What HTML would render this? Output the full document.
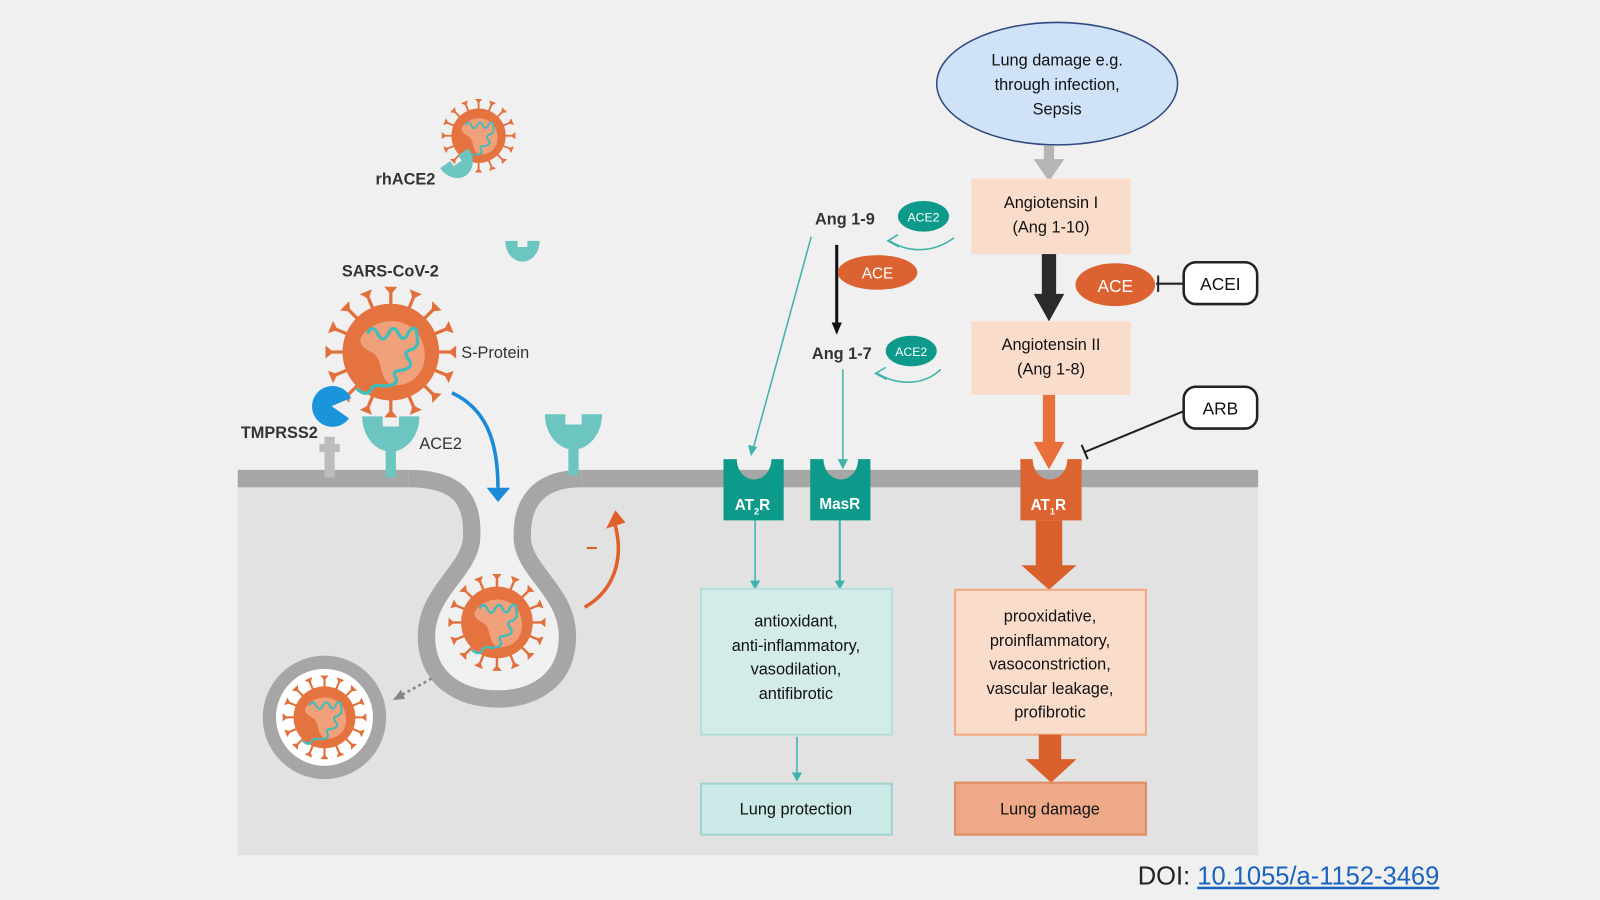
<!DOCTYPE html>
<html><head><meta charset="utf-8"><style>
html,body{margin:0;padding:0;background:#f0f0f0;}
svg{display:block;}
text{font-family:"Liberation Sans",sans-serif;}
</style></head><body>
<svg width="1600" height="900" viewBox="0 0 1568 882" xmlns="http://www.w3.org/2000/svg">
<defs>
<g id="sp"><line x1="0" y1="-36" x2="0" y2="-48" stroke="#e2703c" stroke-width="2.5"/><path d="M-5 -50 L5 -50 L0 -44z" fill="#e2703c"/></g>
<g id="virus">
<use href="#sp"/><use href="#sp" transform="rotate(22.5)"/><use href="#sp" transform="rotate(45)"/><use href="#sp" transform="rotate(67.5)"/>
<use href="#sp" transform="rotate(90)"/><use href="#sp" transform="rotate(112.5)"/><use href="#sp" transform="rotate(135)"/><use href="#sp" transform="rotate(157.5)"/>
<use href="#sp" transform="rotate(180)"/><use href="#sp" transform="rotate(202.5)"/><use href="#sp" transform="rotate(225)"/><use href="#sp" transform="rotate(247.5)"/>
<use href="#sp" transform="rotate(270)"/><use href="#sp" transform="rotate(292.5)"/><use href="#sp" transform="rotate(315)"/><use href="#sp" transform="rotate(337.5)"/>
<circle r="37" fill="#e5733f"/>
<path d="M-20 -15 C-5 -30 20 -25 25 -5 C30 15 15 28 0 25 C-10 20 -5 5 -15 0 C-25 -5 -25 -10 -20 -15z" fill="#f0a07a"/>
<path d="M-18 -14 q4 -8 8 0 q4 8 8 0 q4 -8 8 0 q4 8 8 -2 q6 -6 6 4 q2 8 -4 10 q-8 2 -2 8 q4 6 -6 8 q-8 0 -4 6 q2 6 -10 6 q-8 -2 -10 4 q-4 4 -10 -2" fill="none" stroke="#3fbdbd" stroke-width="2.5"/>
</g>
<path id="cup" d="M-28 -20 L-8 -20 L-8 -10 L8 -10 L8 -20 L28 -20 C28 0 15 12 5 14 L5 40 L-5 40 L-5 14 C-15 12 -28 0 -28 -20z" fill="#6cc5c0"/>
<path id="cuph" d="M-28 -20 L-8 -20 L-8 -10 L8 -10 L8 -20 L28 -20 C28 0 15 14 0 14 C-15 14 -28 0 -28 -20z" fill="#6cc5c0"/>
</defs>

<rect x="233" y="468" width="1000" height="370" fill="#e2e2e2"/>
<path d="M400 469 C450 469 465 490 462 530 C458 560 420 580 418 620 C416 665 450 685 488 685 C525 685 558 665 556 620 C554 580 515 560 512 530 C510 495 525 469 570 469 L570 460 L400 460 Z" fill="#f0f0f0"/>
<line x1="233" y1="469" x2="400" y2="469" stroke="#a6a6a6" stroke-width="17"/>
<line x1="570" y1="469" x2="1233" y2="469" stroke="#a6a6a6" stroke-width="17"/>
<path d="M400 469 C450 469 465 490 462 530 C458 560 420 580 418 620 C416 665 450 685 488 685 C525 685 558 665 556 620 C554 580 515 560 512 530 C510 495 525 469 570 469" fill="none" stroke="#a6a6a6" stroke-width="17"/>

<use href="#virus" transform="translate(469,133) scale(0.72)"/>
<use href="#virus" transform="translate(383,345) scale(1.28)"/>
<use href="#virus" transform="translate(487,610) scale(0.95)"/>
<circle cx="318" cy="703" r="54" fill="#fff" stroke="#a6a6a6" stroke-width="13"/>
<use href="#virus" transform="translate(318,703) scale(0.82)"/>

<use href="#cuph" transform="translate(452,165) rotate(-35) scale(0.6)"/>
<use href="#cuph" transform="translate(512,248) scale(0.6)"/>
<use href="#cup" transform="translate(383,428)"/>
<use href="#cup" transform="translate(562,426)"/>
<rect x="318" y="428" width="10" height="40" fill="#bcbcbc"/><rect x="313" y="435" width="20" height="8" fill="#bcbcbc"/>
<path d="M325 398 L344 390 A20 20 0 1 0 342 410 Z" fill="#1a95dc"/>
<text x="368" y="181" font-size="16" font-weight="bold" fill="#333">rhACE2</text>
<text x="335" y="271" font-size="16" font-weight="bold" fill="#333">SARS-CoV-2</text>
<text x="452" y="351" font-size="16" fill="#333">S-Protein</text>
<text x="236" y="429" font-size="16" font-weight="bold" fill="#333">TMPRSS2</text>
<text x="411" y="440" font-size="16" fill="#333">ACE2</text>
<path d="M443 385 C475 400 488 430 488 478" fill="none" stroke="#1a8ad8" stroke-width="3.5"/>
<path d="M477 478 L500 478 L488 492z" fill="#1a8ad8"/>
<path d="M573 595 C600 580 612 550 603 515" fill="none" stroke="#e0602c" stroke-width="3.5"/>
<path d="M594 518 L613 512 L603 500z" fill="#e0602c"/>
<line x1="575" y1="537" x2="585" y2="537" stroke="#e0602c" stroke-width="2"/>
<line x1="423" y1="665" x2="392" y2="682" stroke="#888" stroke-width="2.5" stroke-dasharray="3,3"/>
<path d="M385 686 L393 676 L397 685z" fill="#888"/>

<ellipse cx="1036" cy="82" rx="118" ry="60" fill="#cfe2f7" stroke="#2f4a80" stroke-width="1.5"/>
<text x="1036" y="64" font-size="16" text-anchor="middle" fill="#111">Lung damage e.g.</text>
<text x="1036" y="88" font-size="16" text-anchor="middle" fill="#111">through infection,</text>
<text x="1036" y="112" font-size="16" text-anchor="middle" fill="#111">Sepsis</text>
<rect x="1023" y="143" width="10" height="15" fill="#b5b5b5"/><path d="M1013 156 L1043 156 L1028 178z" fill="#b5b5b5"/>
<rect x="952" y="175" width="156" height="74" fill="#fadccb"/>
<text x="1030" y="204" font-size="16" text-anchor="middle" fill="#111">Angiotensin I</text>
<text x="1030" y="228" font-size="16" text-anchor="middle" fill="#111">(Ang 1-10)</text>
<rect x="1021" y="249" width="14" height="40" fill="#2a2a2a"/><path d="M1013 288 L1043 288 L1028 315z" fill="#2a2a2a"/>
<ellipse cx="1093" cy="279" rx="39" ry="21" fill="#dd6232"/>
<text x="1093" y="286" font-size="17" text-anchor="middle" fill="#fff">ACE</text>
<line x1="1133" y1="278" x2="1160" y2="278" stroke="#222" stroke-width="2"/><line x1="1135" y1="270" x2="1135" y2="286" stroke="#222" stroke-width="2"/>
<rect x="1160" y="257" width="72" height="41" rx="12" fill="#fff" stroke="#222" stroke-width="2.5"/>
<text x="1196" y="284" font-size="17" text-anchor="middle" fill="#111">ACEI</text>
<rect x="952" y="315" width="156" height="72" fill="#fadccb"/>
<text x="1030" y="343" font-size="16" text-anchor="middle" fill="#111">Angiotensin II</text>
<text x="1030" y="367" font-size="16" text-anchor="middle" fill="#111">(Ang 1-8)</text>
<rect x="1022" y="387" width="12" height="48" fill="#e8703a"/><path d="M1013 433 L1043 433 L1028 460z" fill="#e8703a"/>
<rect x="1160" y="379" width="72" height="41" rx="12" fill="#fff" stroke="#222" stroke-width="2.5"/>
<text x="1196" y="406" font-size="17" text-anchor="middle" fill="#111">ARB</text>
<line x1="1160" y1="403" x2="1063" y2="443" stroke="#222" stroke-width="2"/><line x1="1060" y1="436" x2="1066" y2="450" stroke="#222" stroke-width="2"/>
<path d="M1000 450 L1012 450 A17 20 0 0 0 1046 450 L1060 450 L1060 510 L1000 510Z" fill="#dc6430"/>
<text x="1010" y="500" font-size="15" font-weight="bold" fill="#fff">AT<tspan font-size="9" dy="4">1</tspan><tspan dy="-4">R</tspan></text>
<rect x="1015" y="510" width="26" height="46" fill="#d95f2b"/><path d="M1001 554 L1055 554 L1028 578z" fill="#d95f2b"/>
<rect x="936" y="578" width="187" height="142" fill="#fadccb" stroke="#f0a880" stroke-width="2"/>
<g font-size="16" text-anchor="middle" fill="#111">
<text x="1029" y="609">prooxidative,</text><text x="1029" y="633">proinflammatory,</text><text x="1029" y="656">vasoconstriction,</text><text x="1029" y="680">vascular leakage,</text><text x="1029" y="703">profibrotic</text></g>
<rect x="1018" y="720" width="22" height="26" fill="#d95f2b"/><path d="M1005 744 L1055 744 L1030 767z" fill="#d95f2b"/>
<rect x="936" y="767" width="187" height="51" fill="#eeaa88" stroke="#e08a60" stroke-width="2"/>
<text x="1029" y="798" font-size="16" text-anchor="middle" fill="#111">Lung damage</text>

<text x="828" y="220" font-size="16" font-weight="bold" text-anchor="middle" fill="#333">Ang 1-9</text>
<ellipse cx="905" cy="212" rx="25" ry="15" fill="#0d9a8a"/><text x="905" y="217" font-size="12" text-anchor="middle" fill="#fff">ACE2</text>
<path d="M935 233 C915 248 890 248 872 236" fill="none" stroke="#3fb3aa" stroke-width="1.5"/><path d="M880 230 L870 236 L881 242" fill="none" stroke="#3fb3aa" stroke-width="1.5"/>
<line x1="820" y1="240" x2="820" y2="318" stroke="#111" stroke-width="3"/><path d="M815 316 L825 316 L820 328z" fill="#111"/>
<ellipse cx="860" cy="267" rx="39" ry="17" fill="#dd6232"/><text x="860" y="273" font-size="15" text-anchor="middle" fill="#fff">ACE</text>
<text x="825" y="352" font-size="16" font-weight="bold" text-anchor="middle" fill="#333">Ang 1-7</text>
<ellipse cx="893" cy="344" rx="25" ry="15" fill="#0d9a8a"/><text x="893" y="349" font-size="12" text-anchor="middle" fill="#fff">ACE2</text>
<path d="M922 362 C905 378 880 378 860 366" fill="none" stroke="#3fb3aa" stroke-width="1.5"/><path d="M868 360 L858 366 L869 372" fill="none" stroke="#3fb3aa" stroke-width="1.5"/>
<line x1="795" y1="232" x2="738" y2="440" stroke="#3fb3aa" stroke-width="1.5"/><path d="M733 436 L742 438 L736 447z" fill="#3fb3aa"/>
<line x1="826" y1="362" x2="826" y2="452" stroke="#3fb3aa" stroke-width="1.5"/><path d="M821 450 L831 450 L826 460z" fill="#3fb3aa"/>
<path d="M709 450 L722 450 A17 20 0 0 0 756 450 L768 450 L768 510 L709 510Z" fill="#0e9a8a"/>
<text x="720" y="500" font-size="15" font-weight="bold" fill="#fff">AT<tspan font-size="9" dy="4">2</tspan><tspan dy="-4">R</tspan></text>
<path d="M794 450 L807 450 A17 20 0 0 0 841 450 L853 450 L853 510 L794 510Z" fill="#0e9a8a"/>
<text x="823" y="499" font-size="15" font-weight="bold" text-anchor="middle" fill="#fff">MasR</text>
<line x1="740" y1="510" x2="740" y2="570" stroke="#3fb3aa" stroke-width="1.5"/><path d="M735 569 L745 569 L740 578z" fill="#3fb3aa"/>
<line x1="823" y1="510" x2="823" y2="570" stroke="#3fb3aa" stroke-width="2"/><path d="M818 569 L828 569 L823 578z" fill="#3fb3aa"/>
<rect x="687" y="577" width="187" height="143" fill="#d3ecea" stroke="#b5dedb" stroke-width="2"/>
<g font-size="16" text-anchor="middle" fill="#111">
<text x="780" y="614">antioxidant,</text><text x="780" y="638">anti-inflammatory,</text><text x="780" y="661">vasodilation,</text><text x="780" y="685">antifibrotic</text></g>
<line x1="781" y1="722" x2="781" y2="758" stroke="#3fb3aa" stroke-width="1.5"/><path d="M776 757 L786 757 L781 766z" fill="#3fb3aa"/>
<rect x="687" y="768" width="187" height="50" fill="#cbe9e6" stroke="#9fd3ce" stroke-width="2"/>
<text x="780" y="798" font-size="16" text-anchor="middle" fill="#111">Lung protection</text>

<text x="1115" y="867" font-size="25" fill="#222">DOI: <tspan fill="#1a64c0" text-decoration="underline">10.1055/a-1152-3469</tspan></text>
</svg>
</body></html>
